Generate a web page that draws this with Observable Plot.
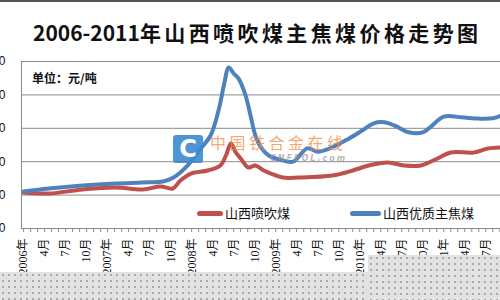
<!DOCTYPE html>
<html>
<head>
<meta charset="utf-8">
<script src="https://cdn.jsdelivr.net/npm/d3@7"></script>
<script src="https://cdn.jsdelivr.net/npm/@observablehq/plot@0.6"></script>
<style>
  html, body { margin: 0; padding: 0; background: #fff; }
  #wrap { position: relative; width: 500px; height: 300px; overflow: hidden; background: #fff; }
  #topline { position: absolute; left: 0; top: 0; width: 500px; height: 2px; background: #555; }
  #title { position: absolute; left: 33px; top: 18px; font-family: "Noto Sans CJK SC", "Noto Sans", sans-serif; font-weight: 700; font-size: 21px; color: #111; white-space: nowrap; line-height: 28px; }
  #title .cjk { letter-spacing: 3.4px; }
  #unit { position: absolute; left: 32px; top: 69px; font-family: "Noto Sans CJK SC", sans-serif; font-weight: 700; font-size: 12px; color: #111; }
  .legend { position: absolute; top: 204px; font-family: "Noto Sans CJK SC", sans-serif; font-size: 13px; color: #111; white-space: nowrap; line-height: 18px; }
  .legend .sw { display: inline-block; height: 5px; border-radius: 3px; vertical-align: middle; margin-right: 2px; position: relative; top: -1px; }
  #logo { position: absolute; left: 173px; top: 135px; width: 30px; height: 28px; background: #3d8ad0; border-radius: 3px; opacity: 0.9; color: #fff; font-family: "DejaVu Sans", sans-serif; font-weight: 700; font-size: 24px; line-height: 28px; text-align: center; }
  #wm { position: absolute; left: 210px; top: 132px; font-family: "Noto Sans CJK SC", sans-serif; font-size: 16px; letter-spacing: 3.5px; color: rgba(238,140,70,0.75); white-space: nowrap; line-height: 20px; }
  #wm2 { position: absolute; left: 270px; top: 154px; font-family: "DejaVu Sans", sans-serif; font-style: italic; font-weight: 700; font-size: 8px; letter-spacing: 2px; color: rgba(150,150,150,0.7); white-space: nowrap; }
  .dots { position: absolute; background-color: #e2e2e2; background-image: radial-gradient(#a8a8a8 0.7px, transparent 0.9px); background-size: 6px 6px; }
</style>
</head>
<body>
<div id="wrap">
  <div id="topline"></div>
  <div id="title">2006-2011<span class="cjk">年山西喷吹煤主焦煤价格走势图</span></div>
  <div id="chart"></div>
  <div id="unit">单位：元/吨</div>
  <div id="logo">C</div>
  <div id="wm">中国铁合金在线</div>
  <div id="wm2">CNFEOL.com</div>
  <div class="legend" style="left:197px"><span class="sw" style="width:26px;background:#c0504d"></span>山西喷吹煤</div>
  <div class="legend" style="left:350px"><span class="sw" style="width:31px;background:#4f81bd"></span>山西优质主焦煤</div>
  <div class="dots" style="left:0;top:272px;width:500px;height:28px"></div>
  <div class="dots" style="left:368px;top:255px;width:132px;height:45px"></div>
</div>
<script>
// month index: 0 = 2006-01
const blueMonths = [0, 3.6, 8.4, 13.1, 17, 19.9, 21.4, 23.4, 25.3, 26.7, 27.9, 28.6, 29.3, 30, 30.7, 31.7, 32.4, 33.1, 33.9, 35, 37, 38.5, 40.5, 42, 43.5, 46, 48.4, 50, 51.5, 53, 55, 57, 58, 60, 62.5, 65, 67, 68.2];
const blueValues = [554, 599, 644, 674, 689, 704, 763, 943, 1198, 1392, 1796, 2141, 2410, 2320, 2245, 1991, 1692, 1392, 1213, 1093, 1020, 1000, 1200, 1150, 1190, 1320, 1470, 1575, 1590, 1540, 1440, 1440, 1510, 1675, 1665, 1645, 1650, 1690];
const redMonths = [0, 3.6, 8.4, 13.1, 17, 19.6, 21.3, 22.4, 23.9, 26.3, 28.1, 28.9, 29.6, 30.3, 31, 32.1, 33.1, 34.3, 35.3, 37, 39.3, 44.1, 47, 49.3, 52, 54.3, 56.7, 59.1, 61, 64.3, 66.3, 68.2];
const redValues = [539, 524, 584, 614, 584, 629, 599, 719, 823, 868, 943, 1093, 1272, 1138, 1048, 913, 943, 868, 823, 763, 763, 793, 868, 943, 988, 943, 943, 1048, 1138, 1138, 1198, 1213];
const yTicks = [0, 500, 1000, 1500, 2000, 2500];
const xLabels = ["2006年","4月","7月","10月","2007年","4月","7月","10月","2008年","4月","7月","10月","2009年","4月","7月","10月","2010年","4月","7月","10月","2011年","4月","7月","10月"];
const xDomain = [-0.3, 68.1];

const blue = blueMonths.map((m, i) => ({m, v: blueValues[i]}));
const red = redMonths.map((m, i) => ({m, v: redValues[i]}));
const monthTicks = d3.range(0, 69);
const labelTicks = xLabels.map((_, i) => i * 3);

const chart = Plot.plot({
  width: 500,
  height: 250,
  marginLeft: 21,
  marginRight: 0,
  marginTop: 11,
  marginBottom: 72,
  style: {background: "transparent", fontFamily: "'Liberation Serif', 'Noto Sans CJK SC', serif", fontSize: "12px", color: "#111"},
  x: {domain: xDomain, axis: null},
  y: {domain: [0, 2500], axis: null},
  marks: [
    Plot.gridY(yTicks, {stroke: "#8a8a8a", strokeOpacity: 1, strokeWidth: 1}),
    Plot.ruleX([xDomain[0]], {stroke: "#8a8a8a", strokeWidth: 1}),
    Plot.ruleY([0], {stroke: "#8a8a8a", strokeWidth: 1}),
    Plot.axisY(yTicks, {tickSize: 0, tickPadding: 16, fontSize: 12, fill: "#111", fontFamily: "'Liberation Sans', sans-serif", label: null}),
    Plot.axisX(monthTicks, {tickSize: 4, stroke: "#8a8a8a", tickFormat: () => "", label: null}),
    Plot.axisX(labelTicks, {tickSize: 0, tickPadding: 10, tickRotate: -90, fill: "#111", fontSize: 12, tickFormat: (d) => xLabels[d / 3], label: null}),
    Plot.line(red, {x: "m", y: "v", stroke: "#c0504d", strokeWidth: 4, curve: "catmull-rom"}),
    Plot.line(blue, {x: "m", y: "v", stroke: "#4f81bd", strokeWidth: 4, curve: "catmull-rom"})
  ]
});
chart.style.position = "absolute";
chart.style.left = "0px";
chart.style.top = "50px";
document.getElementById("chart").appendChild(chart);
</script>
</body>
</html>
